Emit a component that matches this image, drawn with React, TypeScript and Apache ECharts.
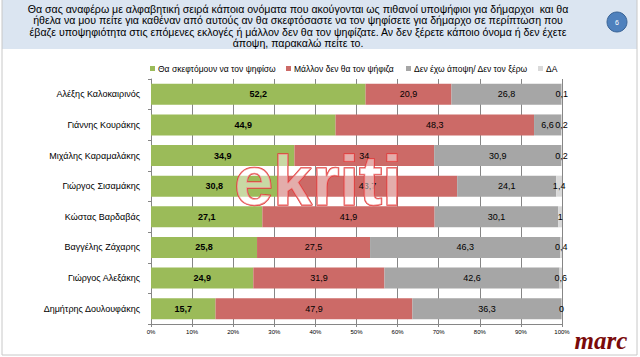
import React, { useEffect, useRef } from "react";
import * as echarts from "echarts";

const categories = [
  "Αλέξης Καλοκαιρινός",
  "Γιάννης Κουράκης",
  "Μιχάλης Καραμαλάκης",
  "Γιώργος Σισαμάκης",
  "Κώστας Βαρδαβάς",
  "Βαγγέλης Ζάχαρης",
  "Γιώργος Αλεξάκης",
  "Δημήτρης Δουλουφάκης",
];
const seriesNames = [
  "Θα σκεφτόμουν να τον ψηφίσω",
  "Μάλλον δεν θα τον ψήφιζα",
  "Δεν έχω άποψη/ Δεν τον ξέρω",
  "ΔΑ",
];
const wouldVote = [52.2, 44.9, 34.9, 30.8, 27.1, 25.8, 24.9, 15.7];
const wouldNot = [20.9, 48.3, 34, 43.7, 41.9, 27.5, 31.9, 47.9];
const noOpinion = [26.8, 6.6, 30.9, 24.1, 30.1, 46.3, 42.6, 36.3];
const noAnswer = [0.1, 0.2, 0.2, 1.4, 1, 0.4, 0.6, 0];
const xTicks = [0, 10, 20, 30, 40, 50, 60, 70, 80, 90, 100];

const titleText =
  "Θα σας αναφέρω με αλφαβητική σειρά κάποια ονόματα που ακούγονται ως πιθανοί υποψήφιοι για δήμαρχοι  και θα\n" +
  "ήθελα να μου πείτε για καθέναν από αυτούς αν θα σκεφτόσαστε να τον ψηφίσετε για δήμαρχο σε περίπτωση που\n" +
  "έβαζε υποψηφιότητα στις επόμενες εκλογές ή μάλλον δεν θα τον ψηφίζατε. Αν δεν ξέρετε κάποιο όνομα ή δεν έχετε\n" +
  "άποψη, παρακαλώ πείτε το.";

const colors = ["#9bbb59", "#cc6a67", "#a6a6a6", "#d9d9d9"];
const legendLefts = [150, 286, 406, 538];
const FONT = "'Liberation Sans', Arial, sans-serif";

export default function App() {
  const ref = useRef<HTMLDivElement>(null);
  useEffect(() => {
    if (!ref.current) return;
    const chart = echarts.init(ref.current, null, { renderer: "svg" });
    const fmt = (p: any) => String(p.value).replace(".", ",");
    const datasets = [wouldVote, wouldNot, noOpinion, noAnswer];
    chart.setOption({
      animation: false,
      backgroundColor: "#ffffff",
      textStyle: { fontFamily: FONT },
      color: colors,
      legend: seriesNames.map((n, i) => ({
        data: [n],
        left: legendLefts[i],
        top: 64,
        padding: 0,
        icon: "rect",
        itemWidth: 5,
        itemHeight: 5,
        textStyle: { fontSize: 8.5, color: "#000", fontFamily: FONT, padding: [0, 0, 0, -2] },
      })),
      grid: { left: 151, right: 78, top: 79, bottom: 33, containLabel: false },
      xAxis: {
        type: "value",
        min: 0,
        max: 100,
        interval: 10,
        axisLine: { show: true, lineStyle: { color: "#868686" } },
        axisTick: { show: true, length: 3, lineStyle: { color: "#868686" } },
        splitLine: { show: true, lineStyle: { color: "#868686", width: 1 } },
        axisLabel: {
          fontSize: 6,
          color: "#000",
          margin: 5,
          formatter: (v: number) => (xTicks.includes(v) ? v + "%" : ""),
        },
      },
      yAxis: {
        type: "category",
        data: categories,
        inverse: true,
        axisLine: { show: true, lineStyle: { color: "#868686" } },
        axisTick: { show: true, length: 3, lineStyle: { color: "#868686" } },
        axisLabel: { fontSize: 9, color: "#000", margin: 11 },
      },
      series: datasets.map((d, i) => ({
        name: seriesNames[i],
        type: "bar",
        stack: "total",
        data: d,
        barWidth: 21,
        itemStyle: { color: colors[i] },
        label: {
          show: true,
          position: "inside",
          formatter: fmt,
          fontSize: 9,
          color: "#000",
          fontWeight: i === 0 ? "bold" : "normal",
        },
      })),
      graphic: [
        {
          type: "rect",
          shape: { x: 2, y: 0, width: 635, height: 49 },
          style: { fill: "#dbe5f1" },
          z: -10,
        },
        {
          type: "rect",
          shape: { x: 2, y: -2, width: 635, height: 357 },
          style: { fill: "none", stroke: "#c8c8c8", lineWidth: 1 },
          z: -9,
        },
        {
          type: "text",
          x: 298,
          y: 3,
          style: {
            text: titleText,
            fill: "#000",
            font: "10.6px " + FONT,
            textAlign: "center",
            lineHeight: 11.5,
          },
        },
        {
          type: "circle",
          shape: { cx: 617, cy: 22, r: 10 },
          style: { fill: "#4f81bd", stroke: "#3a6496", lineWidth: 1 },
        },
        {
          type: "text",
          x: 617,
          y: 22,
          style: {
            text: "6",
            fill: "#fff",
            font: "7px " + FONT,
            textAlign: "center",
            textVerticalAlign: "middle",
          },
        },
        {
          type: "text",
          x: 318,
          y: 181,
          z: 100,
          style: {
            text: "ekriti",
            fill: "rgba(255,255,255,0.45)",
            stroke: "#e23a3a",
            lineWidth: 1.5,
            font: "bold 70px " + FONT,
            textAlign: "center",
            textVerticalAlign: "middle",
          },
        },
        {
          type: "text",
          x: 601,
          y: 340,
          style: {
            text: "marc",
            fill: "#7a0a0a",
            font: "italic bold 25px 'Liberation Serif', serif",
            textAlign: "center",
            textVerticalAlign: "middle",
          },
        },
      ],
    });
    return () => chart.dispose();
  }, []);
  return (
    <div
      ref={ref}
      style={{ position: "fixed", left: 0, top: 0, width: 640, height: 357 }}
    />
  );
}
